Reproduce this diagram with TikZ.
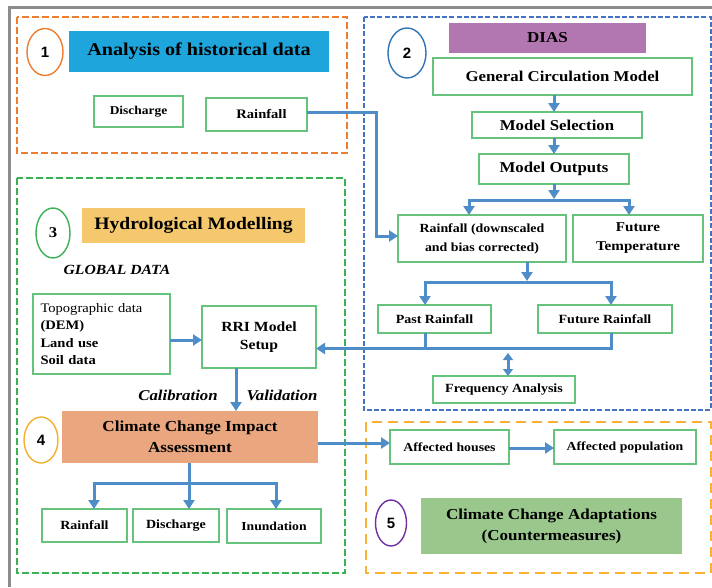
\documentclass[tikz,border=0pt]{standalone}
\usepackage{fontspec}
\setmainfont{Liberation Serif}[FakeStretch=1.12]
\newfontfamily\numfont{Liberation Sans}
\usetikzlibrary{arrows.meta,shapes.geometric}

\definecolor{frameGray}{HTML}{8C8C8C}
\definecolor{dOrange}{HTML}{ED7D31}
\definecolor{dBlue}{HTML}{4472C4}
\definecolor{dGreen}{HTML}{3CB054}
\definecolor{dYellow}{HTML}{F9B233}
\definecolor{boxGreen}{HTML}{66C27C}
\definecolor{titleBlue}{HTML}{1EA5DC}
\definecolor{diasPurple}{HTML}{B276B0}
\definecolor{hydOrange}{HTML}{F5C86E}
\definecolor{cciaSalmon}{HTML}{EAA77F}
\definecolor{adaptGreen}{HTML}{9AC78C}
\definecolor{arrBlue}{HTML}{4E8DC8}
\definecolor{c2Blue}{HTML}{2E74B5}
\definecolor{c4Yellow}{HTML}{F5B02E}
\definecolor{c5Purple}{HTML}{7030A0}

\tikzset{
  every node/.style={inner sep=0pt, outer sep=0pt, align=center, font=\bfseries},
  databox/.style={draw=boxGreen, line width=1.1pt, fill=white, minimum width=#1},
  filled/.style={fill=#1, draw=none},
  numcirc/.style={ellipse, draw=#1, line width=1.4pt, font=\numfont\bfseries\fontsize{15}{15}\selectfont},
  region/.style={draw=#1, line width=2pt},
  flow/.style={draw=arrBlue, line width=3pt, -{Triangle[length=9pt,width=11pt]}},
  flowline/.style={draw=arrBlue, line width=3pt},
  fs/.style={font=\bfseries\fontsize{#1}{\dimexpr #1pt*6/5\relax}\selectfont},
  fs2/.style 2 args={font=\bfseries\fontsize{#1}{#2}\selectfont},
  fi/.style={font=\bfseries\itshape\fontsize{#1}{#1}\selectfont},
}

\begin{document}
\begin{tikzpicture}[x=1pt,y=-1pt]
\useasboundingbox (0,0) rectangle (712,587);

% outer frame (top and left edges)
\draw[frameGray, line width=3pt] (9,587) -- (9,7) -- (712,7);

% dashed regions
\draw[region=dOrange, dash pattern=on 7pt off 3pt] (17,17) rectangle (347,153);
\draw[region=dBlue, dash pattern=on 5pt off 2.2pt] (364,17) rectangle (711,410);
\draw[region=dGreen, dash pattern=on 7pt off 3pt] (17,178) rectangle (345,573);
\draw[region=dYellow, dash pattern=on 10pt off 6pt] (366,422) rectangle (711,573);

% ---- 1: historical data
\node[numcirc=dOrange, minimum width=36pt, minimum height=47pt] (c1) at (45,52) {1};
\node[filled=titleBlue, minimum width=260pt, minimum height=41pt, fs=18] (hist) at (199,51.5) {Analysis of historical data};
\node[databox=89pt, minimum height=31pt, fs=12] (dis1) at (138.5,111.5) {Discharge};
\node[databox=101pt, minimum height=33pt, fs=13] (rain1) at (256.5,114.5) {\hspace*{10pt}\raisebox{2pt}{Rainfall}};

% ---- 2: DIAS
\node[numcirc=c2Blue, minimum width=38pt, minimum height=50pt] (c2) at (407,53) {2};
\node[filled=diasPurple, minimum width=197pt, minimum height=30pt, fs=15.2] (dias) at (547.5,38) {DIAS};
\node[databox=259pt, minimum height=37pt, fs=15] (gcm) at (562.5,76.5) {General Circulation Model};
\node[databox=170pt, minimum height=26pt, fs=15] (msel) at (557,125) {Model Selection};
\node[databox=150pt, minimum height=30pt, fs=15] (mout) at (554,169) {Model Outputs};
\node[databox=168pt, minimum height=47pt, fs2={12.4}{19}] (rdown) at (482,238.5) {Rainfall (downscaled\\and bias corrected)};
\node[databox=130pt, minimum height=47pt, fs2={13.5}{19}] (ftemp) at (638,238.5) {Future\\Temperature};
\node[databox=113pt, minimum height=28pt, fs=12.5] (past) at (434.5,319) {Past Rainfall};
\node[databox=134pt, minimum height=28pt, fs=12.5] (fut) at (605,319) {Future Rainfall};
\node[databox=142pt, minimum height=27pt, fs=12.5] (freq) at (504,389.5) {Frequency Analysis};

% ---- 3: hydrological modelling
\node[numcirc=dGreen, minimum width=34pt, minimum height=50pt, font=\bfseries\fontsize{15}{15}\selectfont] (c3) at (53,233) {3};
\node[filled=hydOrange, minimum width=223pt, minimum height=35pt, fs=17.5] (hyd) at (193.5,225.5) {Hydrological Modelling};
\node[fi=14] (glob) at (117,270) {GLOBAL DATA};
\node[databox=137pt, minimum height=80pt, align=left, text width=122pt, font=\fontsize{13}{17.5}\selectfont] (topo) at (101.5,334)
  {Topographic data\\\textbf{(DEM)}\\\textbf{Land use}\\\textbf{Soil data}};
\node[databox=114pt, minimum height=62pt, fs2={14}{18}] (rri) at (259,337) {RRI Model\\Setup};
\node[fi=15] (calib) at (178,395) {Calibration};
\node[fi=15] (valid) at (282,395) {Validation};

% ---- 4: impact assessment
\node[numcirc=c4Yellow, minimum width=34pt, minimum height=46pt] (c4) at (41,440) {4};
\node[filled=cciaSalmon, minimum width=256pt, minimum height=52pt, fs2={15.3}{21}] (ccia) at (190,437) {Climate Change Impact\\Assessment};
\node[databox=85pt, minimum height=33pt, fs=12.5] (rain4) at (84.5,525.5) {Rainfall};
\node[databox=86pt, minimum height=33pt, fs=12.5] (dis4) at (176,525.5) {Discharge};
\node[databox=94pt, minimum height=34pt, fs=12.2] (inun) at (274,526) {Inundation};

% ---- 5: adaptations
\node[databox=119pt, minimum height=34pt, fs=12.3] (houses) at (449.5,447) {Affected houses};
\node[databox=142pt, minimum height=34pt, fs=12.3] (pop) at (625,447) {Affected population};
\node[numcirc=c5Purple, minimum width=31pt, minimum height=46pt] (c5) at (391,523) {5};
\node[filled=adaptGreen, minimum width=261pt, minimum height=56pt, fs2={15.2}{21}] (adapt) at (551.5,526) {Climate Change Adaptations\\(Countermeasures)};

% ---- connectors
\coordinate (rbend) at (376,236);
\draw[flow] ([yshift=2pt]rain1.east) -| (rbend) -- (rbend -| rdown.west);

\draw[flow] (gcm.south -| mout.north) -- (msel.north -| mout.north);
\draw[flow] (msel.south -| mout.north) -- (mout.north);
\coordinate (j1) at (554,200);
\draw[flow] (mout.south) -- ([yshift=1pt]j1);
\draw[flow] (j1) -| ([xshift=-13pt]rdown.north);
\draw[flow] (j1) -| ([xshift=-9pt]ftemp.north);

\coordinate (j2) at (527,282);
\draw[flow] ([xshift=45pt]rdown.south) -- ([yshift=1pt]j2);
\draw[flow] (j2) -| ([xshift=-9.5pt]past.north);
\draw[flow] (j2) -| ([xshift=6pt]fut.north);

\coordinate (j3) at (611,348.5);
\draw[flowline] ([xshift=-9.5pt]past.south) -- ([xshift=-9.5pt]past.south |- j3);
\draw[flow] ([xshift=6pt]fut.south) |- ([yshift=-11.5pt]rri.east);
\draw[draw=arrBlue, line width=3pt, {Triangle[length=7pt,width=10pt]}-{Triangle[length=7pt,width=10pt]}]
  ([xshift=4pt]freq.north) -- ([xshift=4pt,yshift=23pt]freq.north);

\draw[flow] ([yshift=-6pt]topo.east) -- ([yshift=-6pt]topo.east -| rri.west);
\draw[flow] ([xshift=-23pt]rri.south) -- ([xshift=-23pt]rri.south |- ccia.north);

\coordinate (j4) at (189,483);
\draw[flow] (j4 |- ccia.south) -- (j4 |- dis4.north);
\draw[flow] (j4) -| ([xshift=9.5pt]rain4.north);
\draw[flow] (j4) -| ([xshift=2pt]inun.north);

\draw[flow] ([yshift=-6pt]ccia.east) -- ([yshift=-6pt]ccia.east -| houses.west);
\draw[flow] ([yshift=-1pt]houses.east) -- ([yshift=-1pt]pop.west);

\end{tikzpicture}
\end{document}
